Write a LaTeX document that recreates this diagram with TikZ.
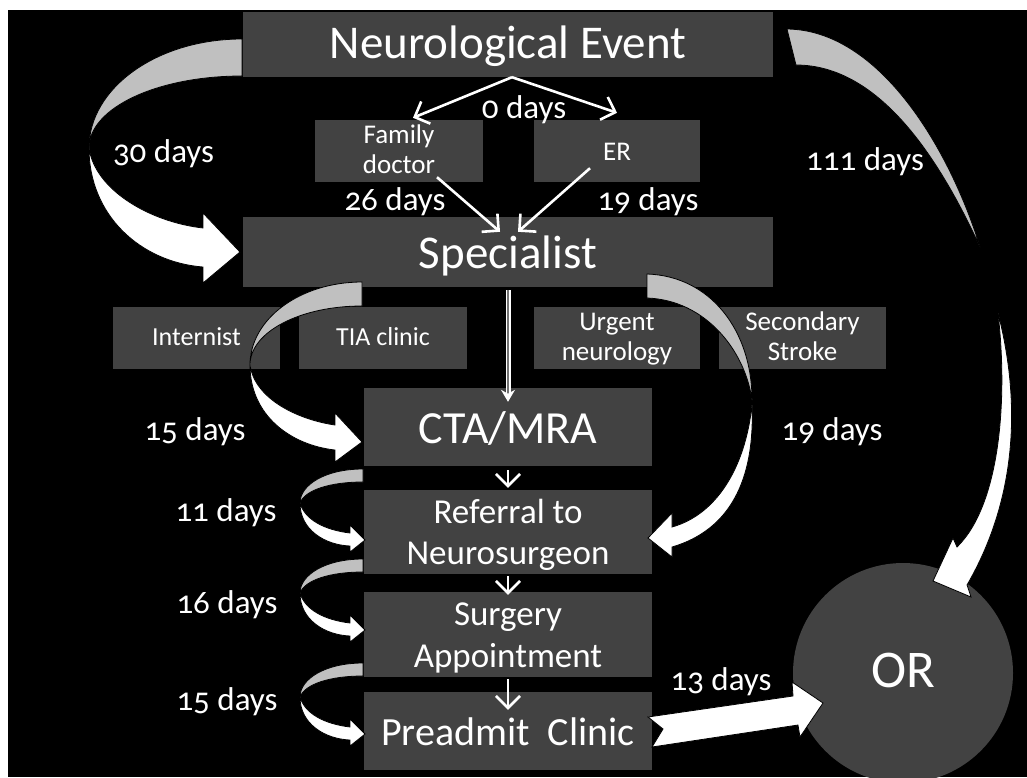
\documentclass[tikz,border=0pt]{standalone}
\usepackage{fontspec}
\setmainfont{Carlito}[Numbers=OldStyle]
\usetikzlibrary{arrows.meta,calc}
\definecolor{boxgray}{RGB}{66,66,66}
\definecolor{backgray}{RGB}{192,192,192}
\begin{document}
\begin{tikzpicture}[x=1pt,y=-1pt,
  box/.style={fill=boxgray, draw=none, inner sep=0pt, text=white, align=center},
  thinarrow/.style={draw=white, line width=2.6pt, -{Straight Barb[length=12pt,width=24pt,line width=2.6pt]}},
  daylabel/.style={text=white, anchor=base, inner sep=0pt, font=\fontsize{33}{36}\selectfont},
  backpart/.style={fill=backgray, draw=black, line width=0.8pt},
  frontpart/.style={fill=white, draw=black, line width=0.8pt},
]
\useasboundingbox (0,0) rectangle (1027,777);
\fill[white] (0,0) rectangle (1027,777);
\fill[black] (8,10) rectangle (1027,777);

% boxes
\node[box, minimum width=530pt, minimum height=65pt, font=\fontsize{47}{50}\selectfont] (ne) at (508,44.5) {\rule[-14pt]{0pt}{55pt}Neurological Event};
\node[box, minimum width=168pt, minimum height=62pt, font=\fontsize{27}{30}\selectfont] (fd) at (399,151) {\rule{0pt}{22pt}Family\\doctor\rule[-8pt]{0pt}{8pt}};
\node[box, minimum width=166pt, minimum height=62pt, font=\fontsize{27}{30}\selectfont] (er) at (617,151) {\rule[-8pt]{0pt}{34pt}ER};
\node[box, minimum width=530pt, minimum height=70pt, font=\fontsize{47}{50}\selectfont] (sp) at (508,252) {\rule[-14pt]{0pt}{60pt}Specialist};
\node[box, minimum width=167pt, minimum height=62pt, font=\fontsize{26}{30}\selectfont] (int) at (196.5,338) {\rule[-8pt]{0pt}{30pt}Internist};
\node[box, minimum width=168pt, minimum height=62pt, font=\fontsize{26}{30}\selectfont] (tia) at (383,338) {\rule[-8pt]{0pt}{30pt}TIA clinic};
\node[box, minimum width=166pt, minimum height=62pt, font=\fontsize{27}{30}\selectfont] (urg) at (617,338) {\rule{0pt}{22pt}Urgent\\neurology\rule[-8pt]{0pt}{8pt}};
\node[box, minimum width=167pt, minimum height=62pt, font=\fontsize{27}{30}\selectfont] (sec) at (802.5,338) {\rule{0pt}{22pt}Secondary\\Stroke\rule[-8pt]{0pt}{8pt}};
\node[box, minimum width=288pt, minimum height=78pt, font=\fontsize{46}{50}\selectfont] (cta) at (508,427) {\rule[-14pt]{0pt}{60pt}CTA/MRA};
\node[box, minimum width=288pt, minimum height=80pt, font=\fontsize{35}{41}\selectfont] (ref) at (508,532) {\rule{0pt}{33pt}Referral to\\Neurosurgeon\rule[-10pt]{0pt}{10pt}};
\node[box, minimum width=288pt, minimum height=71pt, font=\fontsize{35}{42}\selectfont] (sur) at (508,634.5) {\rule{0pt}{33pt}Surgery\\Appointment\rule[-10pt]{0pt}{10pt}};
\node[box, minimum width=288pt, minimum height=78pt, font=\fontsize{40}{44}\selectfont] (pre) at (508,731) {\rule[-12pt]{0pt}{52pt}Preadmit\ \ Clinic};
\node[box, circle, minimum size=220pt, font=\fontsize{53}{56}\selectfont] (or) at (903,673) {\rule[-16pt]{0pt}{60pt}OR};

% straight arrows
\draw[thinarrow] ([xshift=4pt]ne.south) -- ([xshift=14pt,yshift=2pt]fd.north);
\draw[thinarrow] ([xshift=4pt]ne.south) -- ([yshift=7pt]er.north);
\draw[thinarrow] ([xshift=38pt,yshift=5pt]fd.south) -- ([xshift=-8pt,yshift=-15pt]sp.north);
\draw[thinarrow] ([xshift=-27pt,yshift=14pt]er.south) -- ([xshift=10pt,yshift=-15pt]sp.north);
\draw[draw=white, line width=1.5pt, double=black!55, double distance=2pt, -{Stealth[length=12pt,width=14pt]}] ([yshift=-3pt]sp.south) -- ([yshift=-14pt]cta.north);
\draw[thinarrow] ([yshift=-4pt]cta.south) -- ([yshift=2pt]ref.north);
\draw[thinarrow] ([yshift=-2pt]ref.south) -- ([yshift=-3pt]sur.north);
\draw[thinarrow] ([yshift=-2pt]sur.south) -- ([yshift=-18pt]pre.north);

% 30 days curved arrow
\path[backpart] (242,39) .. controls (157,39) and (89,88) .. (89,148) .. controls (89,108) and (157,76) .. (242,76) -- cycle;
\path[frontpart] (89,148) .. controls (89,215) and (140,262) .. (203,267) -- (203,283) -- (240,252) -- (203,213) -- (203,228) .. controls (150,222) and (95,190) .. (89,148) -- cycle;

% 111 days curved arrow
\path[backpart] (787,29) .. controls (880,30) and (950,150) .. (980,247) .. controls (940,160) and (880,65) .. (796,65) -- cycle;
\path[frontpart] (998,313) .. controls (1018,390) and (1022,490) .. (967,585) -- (971,597) -- (933,581) -- (953,538) -- (957,547) .. controls (1000,505) and (1008,400) .. (998,313) -- cycle;

% 15 days (Specialist -> CTA/MRA)
\path[backpart] (362,282) .. controls (300,282) and (250,319) .. (250,365) .. controls (250,332) and (300,306) .. (362,306) -- cycle;
\path[frontpart] (250,365) .. controls (250,415) and (290,445) .. (335,450) -- (335,462) -- (362,442) -- (335,413) -- (335,425) .. controls (300,420) and (255,400) .. (250,365) -- cycle;

% 19 days (Specialist -> Referral)
\path[backpart] (647,274) .. controls (710,276) and (752,330) .. (752,400) .. controls (745,350) and (705,300) .. (647,298) -- cycle;
\path[frontpart] (752,405) .. controls (755,480) and (730,530) .. (672,547) -- (672,557) -- (648,538) -- (672,513) -- (672,527) .. controls (715,515) and (745,470) .. (752,405) -- cycle;

% small curved arrows
\foreach \dy in {0,90,194}{
\begin{scope}[shift={(0,\dy)}]
\path[backpart] (363,469) .. controls (325,469) and (300,485) .. (300,503) .. controls (305,490) and (330,482) .. (363,482) -- cycle;
\path[frontpart] (300,503) .. controls (300,530) and (325,545) .. (350,546) -- (350,552) -- (365,540) -- (350,525) -- (350,533) .. controls (325,530) and (305,520) .. (300,503) -- cycle;
\end{scope}}

% 13 days straight block arrow
\path[frontpart] (648,717) -- (793,696) -- (792,682) -- (823,703) -- (800,737) -- (798,725) -- (652,747) -- (663,729) -- cycle;

% labels
\node[daylabel] (d0) at (524,118) {0 days};
\node[daylabel] (d30) at (163.5,162) {30 days};
\node[daylabel] (d111) at (865,170) {111 days};
\node[daylabel] (d26) at (395,210) {26 days};
\node[daylabel] (d19a) at (648,210) {19 days};
\node[daylabel] (d15a) at (195,440) {15 days};
\node[daylabel] (d19b) at (832,440) {19 days};
\node[daylabel] (d11) at (226,521) {11 days};
\node[daylabel] (d16) at (227,613) {16 days};
\node[daylabel] (d15b) at (227,710) {15 days};
\node[daylabel] (d13) at (721,690) {13 days};
\end{tikzpicture}
\end{document}
